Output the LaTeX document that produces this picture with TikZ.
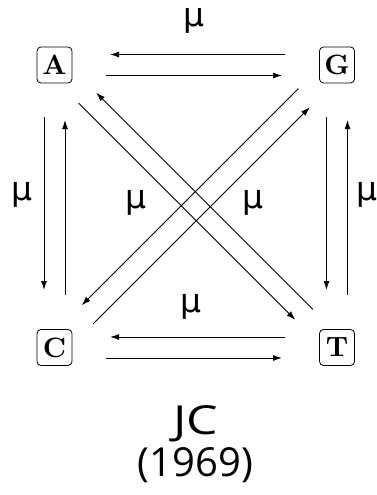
\documentclass[tikz,border=0pt]{standalone}
\usepackage{fontspec}
\newfontfamily\sansf{Open Sans}
\newfontfamily\mufont{DejaVu Sans}
\usetikzlibrary{arrows.meta}
\newcommand{\bigletter}[1]{\scalebox{2.8}{\bfseries\fontsize{10}{12}\selectfont #1}}
\begin{document}
\begin{tikzpicture}[x=1pt,y=-1pt,
  base/.style={draw, rounded corners=4pt, line width=0.8pt, minimum width=35pt, minimum height=36pt, inner sep=0pt},
  arr/.style={-{Latex[length=9pt,width=6pt]}, line width=1pt},
  mu/.style={anchor=base, inner sep=0pt, font=\mufont\fontsize{33}{40}\selectfont},
  ttl/.style={anchor=base, inner sep=0pt, font=\sansf\fontsize{40}{48}\selectfont}]
\useasboundingbox (0,0) rectangle (376,495);
\node[base] (A) at (54.5,65) {\bigletter{A}};
\node[base] (G) at (337,65) {\bigletter{G}};
\node[base] (C) at (54.5,347.5) {\bigletter{C}};
\node[base] (T) at (337,347.5) {\bigletter{T}};
% horizontal
\draw[arr, shorten <=52pt, shorten >=55.5pt] ([shift={(0,-10.5)}]G.center) -- ([shift={(0,-10.5)}]A.center);
\draw[arr, shorten <=51.5pt, shorten >=55pt] ([shift={(0,10.5)}]A.center) -- ([shift={(0,10.5)}]G.center);
\draw[arr, shorten <=52pt, shorten >=55.5pt] ([shift={(0,-10.5)}]T.center) -- ([shift={(0,-10.5)}]C.center);
\draw[arr, shorten <=51.5pt, shorten >=55pt] ([shift={(0,10.5)}]C.center) -- ([shift={(0,10.5)}]T.center);
% vertical
\draw[arr, shorten <=52pt, shorten >=57.5pt] ([shift={(-10.5,0)}]A.center) -- ([shift={(-10.5,0)}]C.center);
\draw[arr, shorten <=52.5pt, shorten >=55pt] ([shift={(10.5,0)}]C.center) -- ([shift={(10.5,0)}]A.center);
\draw[arr, shorten <=52pt, shorten >=57.5pt] ([shift={(-10.5,0)}]G.center) -- ([shift={(-10.5,0)}]T.center);
\draw[arr, shorten <=52.5pt, shorten >=55pt] ([shift={(10.5,0)}]T.center) -- ([shift={(10.5,0)}]G.center);
% diagonals
\draw[arr, shorten <=44pt, shorten >=49pt] ([shift={(-7,7)}]A.center) -- ([shift={(-7,7)}]T.center);
\draw[arr, shorten <=44pt, shorten >=49pt] ([shift={(7,-7)}]T.center) -- ([shift={(7,-7)}]A.center);
\draw[arr, shorten <=44pt, shorten >=49pt] ([shift={(-7.5,-7.5)}]G.center) -- ([shift={(-7.5,-7.5)}]C.center);
\draw[arr, shorten <=44pt, shorten >=49pt] ([shift={(7.5,7.5)}]C.center) -- ([shift={(7.5,7.5)}]G.center);
% labels
\node[mu] (m1) at (194,27) {μ};
\node[mu] (m2) at (21.5,200) {μ};
\node[mu] (m3) at (136,208) {μ};
\node[mu] (m4) at (252.5,208) {μ};
\node[mu] (m5) at (367,200) {μ};
\node[mu] (m6) at (191,312) {μ};
\node[ttl] (t1) at (196,434) {\scalebox{1.25}[1]{JC}};
\node[ttl] (t2) at (195.5,476) {(1969)};
\end{tikzpicture}
\end{document}
